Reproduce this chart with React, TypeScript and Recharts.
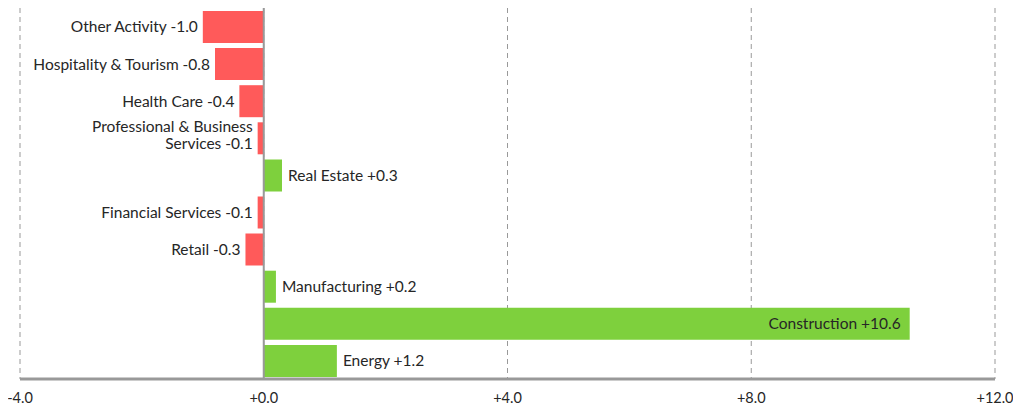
import React from "react";
import { BarChart, Bar, XAxis, YAxis, CartesianGrid, ReferenceLine, Cell, LabelList } from "recharts";

const categories = [
  "Other Activity",
  "Hospitality & Tourism",
  "Health Care",
  "Professional & Business Services",
  "Real Estate",
  "Financial Services",
  "Retail",
  "Manufacturing",
  "Construction",
  "Energy",
];
const values = [-1.0, -0.8, -0.4, -0.1, 0.3, -0.1, -0.3, 0.2, 10.6, 1.2];
const xTicks = [-4, 0, 4, 8, 12];

const data = categories.map((name, i) => ({ name, value: values[i] }));

const RED = "#ff5a5a";
const GREEN = "#7ed03d";
const FONT = "Lato, 'Noto Sans', sans-serif";

const fmt = (v: number) => (v >= 0 ? "+" : "") + v.toFixed(1);

const wrapLines: Record<string, string[]> = {
  "Professional & Business Services": ["Professional & Business", "Services"],
};

const BarLabel = (props: any) => {
  const { x, y, width, height, index } = props;
  const v = values[index];
  const name = categories[index];
  const cy = y + height / 2;
  let tx: number;
  let anchor: "start" | "end";
  const left = Math.min(x, x + width);
  const right = Math.max(x, x + width);
  if (v < 0) {
    tx = left - 5;
    anchor = "end";
  } else if (v > 8) {
    tx = right - 9;
    anchor = "end";
  } else {
    tx = right + 6;
    anchor = "start";
  }
  const lines = wrapLines[name];
  if (lines) {
    const txt = [lines[0], lines[1] + " " + fmt(v)];
    return (
      <text x={tx} y={cy} textAnchor={anchor} fontFamily={FONT} fontSize={15.5} fill="#262626">
        <tspan x={tx} dy="-0.42em">{txt[0]}</tspan>
        <tspan x={tx} dy="1.12em">{txt[1]}</tspan>
      </text>
    );
  }
  return (
    <text x={tx} y={cy} dy="0.35em" textAnchor={anchor} fontFamily={FONT} fontSize={15.5} fill="#262626">
      {name + " " + fmt(v)}
    </text>
  );
};

const XTick = (props: any) => {
  const { x, y, payload } = props;
  return (
    <text x={x} y={y + 11} dy="0.35em" textAnchor="middle" fontFamily={FONT} fontSize={14.5} fill="#262626">
      {fmt(payload.value)}
    </text>
  );
};

export default function App() {
  return (
    <BarChart
      width={1005}
      height={401}
      data={data}
      layout="vertical"
      margin={{ top: 0, right: 18, bottom: 8, left: 12 }}
      barSize={32}
    >
      <CartesianGrid horizontal={false} stroke="#999" strokeDasharray="5 4" />
      <XAxis
        type="number"
        domain={[-4, 12]}
        ticks={xTicks}
        axisLine={{ stroke: "#999", strokeWidth: 3 }}
        tickLine={false}
        tick={<XTick />}
        height={22}
        interval={0}
      />
      <YAxis type="category" dataKey="name" hide />
      <Bar dataKey="value" isAnimationActive={false}>
        {data.map((d, i) => (
          <Cell key={i} fill={d.value < 0 ? RED : GREEN} />
        ))}
        <LabelList dataKey="value" content={<BarLabel />} />
      </Bar>
      <ReferenceLine x={0} stroke="#999" strokeWidth={2} />
    </BarChart>
  );
}
